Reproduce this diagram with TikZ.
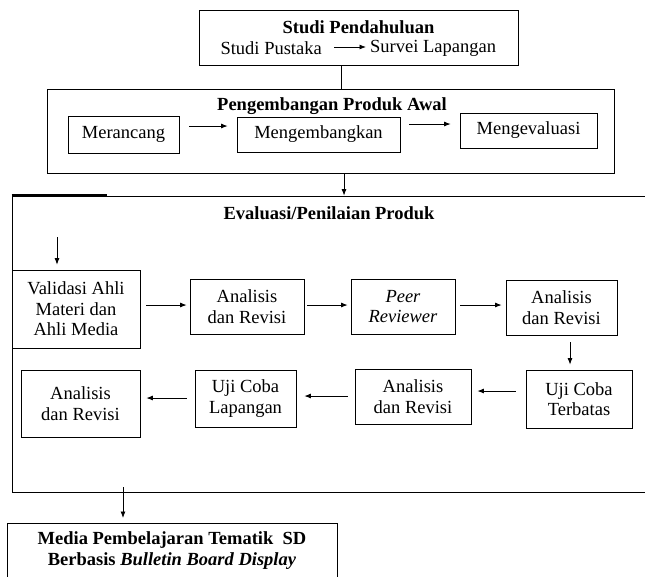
\documentclass[tikz,border=0pt]{standalone}
\usepackage{fontspec}
\setmainfont{Liberation Serif}
\usetikzlibrary{arrows.meta}
\newcommand{\fsz}{\fontsize{18.5}{20.5}\selectfont}
\begin{document}
\begin{tikzpicture}[x=1pt,y=-1pt,
  box/.style={draw, line width=0.8pt, inner sep=0pt, align=center, font=\fsz},
  lbl/.style={inner sep=0pt, align=center, font=\fsz},
  arr/.style={-{Latex[length=6.5pt,width=5pt]}, line width=0.8pt}]
\useasboundingbox[fill=white] (0,0) rectangle (645,576);
% top box
\node[box, minimum width=319pt, minimum height=55pt] (studi) at (358.5,37.5) {};
\node[lbl, font=\fsz\bfseries] (studiT) at (358.5,27) {Studi Pendahuluan};
\node[lbl, anchor=east] (sp) at (322,48) {Studi Pustaka};
\node[lbl, anchor=west] (sl) at (370,48) {Survei Lapangan};
\draw[arr, shorten <=12pt, shorten >=4pt] ([yshift=1pt]sp.east) -- ([yshift=1pt]sp.east -| sl.west);
% pengembangan
\node[box, minimum width=567pt, minimum height=84pt] (peng) at (330.5,131) {};
\node[lbl, font=\fsz\bfseries] (pengT) at (332,106) {Pengembangan Produk Awal};
\node[box, minimum width=111pt, minimum height=37pt] (merancang) at (123.5,134.5) {Merancang};
\node[box, minimum width=163pt, minimum height=35pt] (mengemb) at (318.5,134.5) {Mengembangkan};
\node[box, minimum width=137pt, minimum height=35pt] (mengeval) at (528.5,130.5) {Mengevaluasi};
\draw ([xshift=-17.5pt]studi.south) -- ([xshift=-17.5pt]studi.south |- peng.north);
\draw[arr, shorten <=10pt, shorten >=9pt] ([yshift=8.5pt]merancang.east) -- ([yshift=8.5pt]merancang.east -| mengemb.west);
\draw[arr, shorten <=9pt, shorten >=9pt] ([yshift=10.5pt]mengemb.east) -- ([yshift=10.5pt]mengemb.east -| mengeval.west);
% evaluasi
\node[box, minimum width=636pt, minimum height=296pt] (eval) at (330,344) {};
\draw[line width=1.6pt] ([yshift=0.4pt]eval.north west) -- ++(95,0);
\draw[arr] ([xshift=13.5pt]peng.south) -- ([xshift=13.5pt]peng.south |- eval.north);
\node[lbl, font=\fsz\bfseries] (evalT) at (329,213) {Evaluasi/Penilaian Produk};
\coordinate (vin) at (57,237);
\node[box, minimum width=128pt, minimum height=78pt] (validasi) at (76,309) {Validasi Ahli\\Materi dan\\Ahli Media};
\draw[arr, shorten >=5pt] (vin) -- (vin |- validasi.north);
\node[box, minimum width=114pt, minimum height=55pt] (an1) at (247,306.5) {Analisis\\dan Revisi};
\node[box, minimum width=104pt, minimum height=55pt] (peer) at (403,306.5) {\textit{Peer}\\\textit{Reviewer}};
\node[box, minimum width=111pt, minimum height=55pt] (an2) at (561.5,307.5) {Analisis\\dan Revisi};
\node[box, minimum width=106pt, minimum height=58pt] (ujiT) at (579,399) {Uji Coba\\Terbatas};
\node[box, minimum width=116pt, minimum height=55pt] (an4) at (413,396.5) {Analisis\\dan Revisi};
\node[box, minimum width=101pt, minimum height=57pt] (ujiL) at (245.5,398.5) {Uji Coba\\Lapangan};
\node[box, minimum width=119pt, minimum height=67pt] (an3) at (80.5,403.5) {Analisis\\dan Revisi};
\draw[arr, shorten <=6pt, shorten >=3pt] ([yshift=4pt]validasi.east) -- ([yshift=4pt]validasi.east -| an1.west);
\draw[arr, shorten <=3pt, shorten >=3pt] ([yshift=1.5pt]an1.east) -- ([yshift=1.5pt]an1.east -| peer.west);
\draw[arr, shorten <=5pt, shorten >=4pt] ([yshift=1.5pt]peer.east) -- ([yshift=1.5pt]peer.east -| an2.west);
\draw[arr, shorten <=7pt, shorten >=5pt] ([xshift=8.5pt]an2.south) -- ([xshift=8.5pt]an2.south |- ujiT.north);
\draw[arr, shorten <=10pt, shorten >=6pt] ([yshift=8pt]ujiT.west) -- ([yshift=8pt]ujiT.west -| an4.east);
\draw[arr, shorten <=7pt, shorten >=8pt] ([yshift=0.5pt]an4.west) -- ([yshift=0.5pt]an4.west -| ujiL.east);
\draw[arr, shorten <=8pt, shorten >=6pt] ([yshift=0.5pt]ujiL.west) -- ([yshift=0.5pt]ujiL.west -| an3.east);
% final
\coordinate (fin) at (123,487);
\node[box, minimum width=330pt, minimum height=57pt, anchor=north west] (final) at (7,523) {};
\node[lbl, font=\fsz\bfseries] (finT) at (172,550.5) {Media Pembelajaran Tematik\ \ SD\\Berbasis \textit{Bulletin Board Display}};
\draw[arr, shorten >=5pt] (fin) -- (fin |- final.north);
\end{tikzpicture}
\end{document}
